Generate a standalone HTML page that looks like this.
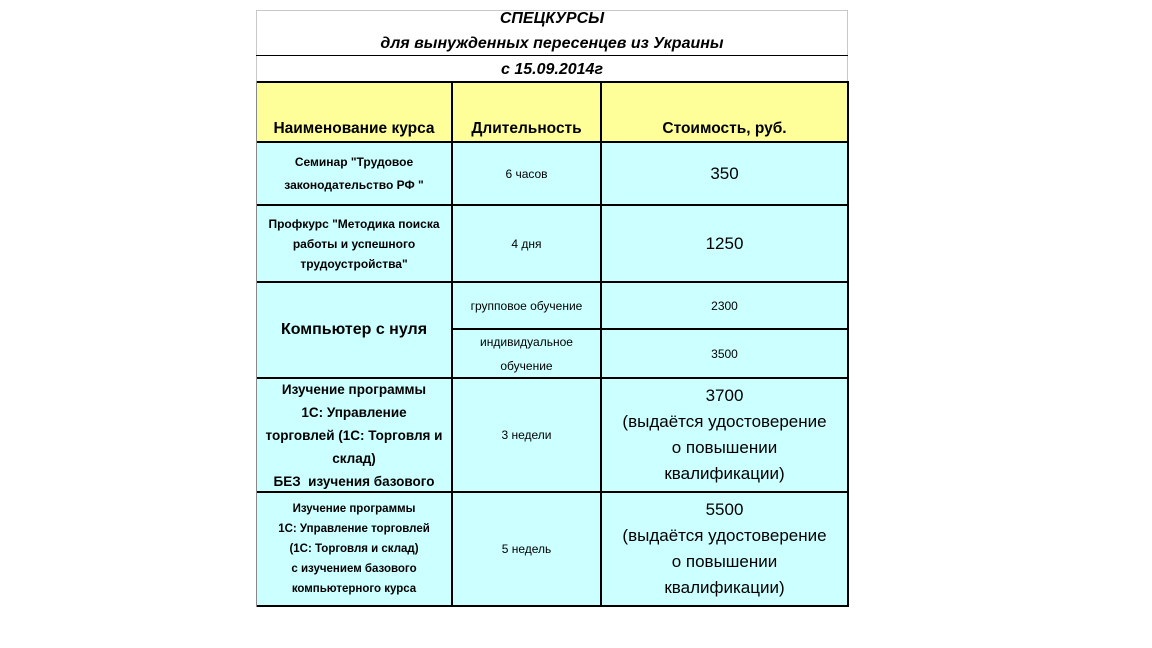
<!DOCTYPE html>
<html><head><meta charset="utf-8"><style>
body{margin:0;width:1152px;height:648px;background:#fff;position:relative;overflow:hidden;font-family:"Liberation Sans",sans-serif;color:#000}
.c{position:absolute;display:flex;align-items:center;justify-content:center;text-align:center;box-sizing:border-box}
.l{position:absolute;background:#000}
.y{background:#ffff99}.b{background:#ccffff}
</style></head><body>
<div style="position:absolute;left:256px;top:10px;width:592px;height:72px;border:1px solid #c8c8c8;border-bottom:none;box-sizing:border-box"></div>
<div class="c" style="left:256px;top:8px;width:592px;height:22px;font-weight:bold;font-style:italic;font-size:16px">СПЕЦКУРСЫ</div>
<div class="c" style="left:256px;top:33px;width:592px;height:22px;font-weight:bold;font-style:italic;font-size:16px">для вынужденных пересенцев из Украины</div>
<div class="c" style="left:256px;top:58px;width:592px;height:24px;font-weight:bold;font-style:italic;font-size:16px">с 15.09.2014г</div>
<div class="l" style="left:256px;top:55px;width:592px;height:1px"></div>

<div class="c y" style="left:256px;top:82px;width:592px;height:60px"></div>
<div class="c" style="left:256px;top:118px;width:196px;height:22px;font-weight:bold;font-size:15.5px">Наименование курса</div>
<div class="c" style="left:452px;top:118px;width:149px;height:22px;font-weight:bold;font-size:15.5px">Длительность</div>
<div class="c" style="left:601px;top:118px;width:247px;height:22px;font-weight:bold;font-size:15.5px">Стоимость, руб.</div>

<div class="b" style="position:absolute;left:256px;top:142px;width:592px;height:465px"></div>

<div class="c" style="left:256px;top:142px;width:196px;height:63px;font-weight:bold;font-size:12px;line-height:23px">Семинар "Трудовое<br>законодательство РФ "</div>
<div class="c" style="left:452px;top:142px;width:149px;height:63px;font-size:12px">6 часов</div>
<div class="c" style="left:601px;top:142px;width:247px;height:63px;font-size:17px">350</div>

<div class="c" style="left:256px;top:205px;width:196px;height:77px;font-weight:bold;font-size:12px;line-height:20px">Профкурс "Методика поиска<br>работы и успешного<br>трудоустройства"</div>
<div class="c" style="left:452px;top:205px;width:149px;height:77px;font-size:12px">4 дня</div>
<div class="c" style="left:601px;top:205px;width:247px;height:77px;font-size:17px">1250</div>

<div class="c" style="left:256px;top:282px;width:196px;height:96px;font-weight:bold;font-size:16px">Компьютер с нуля</div>
<div class="c" style="left:452px;top:282px;width:149px;height:47px;font-size:12px">групповое обучение</div>
<div class="c" style="left:601px;top:282px;width:247px;height:47px;font-size:12px">2300</div>
<div class="c" style="left:452px;top:329px;width:149px;height:49px;font-size:12px;line-height:24px">индивидуальное<br>обучение</div>
<div class="c" style="left:601px;top:329px;width:247px;height:49px;font-size:12px">3500</div>

<div class="c" style="left:256px;top:378px;width:196px;height:114px;font-weight:bold;font-size:13.5px;line-height:23px">Изучение программы<br>1С: Управление<br>торговлей (1С: Торговля и<br>склад)<br>БЕЗ&nbsp; изучения базового</div>
<div class="c" style="left:452px;top:378px;width:149px;height:114px;font-size:12px">3 недели</div>
<div class="c" style="left:601px;top:378px;width:247px;height:114px;font-size:17px;line-height:26px">3700<br>(выдаётся удостоверение<br>о повышении<br>квалификации)</div>

<div class="c" style="left:256px;top:492px;width:196px;height:114px;font-weight:bold;font-size:11.5px;line-height:20px">Изучение программы<br>1С: Управление торговлей<br>(1С: Торговля и склад)<br>с изучением базового<br>компьютерного курса</div>
<div class="c" style="left:452px;top:492px;width:149px;height:114px;font-size:12px">5 недель</div>
<div class="c" style="left:601px;top:492px;width:247px;height:114px;font-size:17px;line-height:26px">5500<br>(выдаётся удостоверение<br>о повышении<br>квалификации)</div>

<div class="l" style="left:256px;top:81px;width:593px;height:2px"></div>
<div class="l" style="left:256px;top:141px;width:593px;height:2px"></div>
<div class="l" style="left:256px;top:204px;width:593px;height:2px"></div>
<div class="l" style="left:256px;top:281px;width:593px;height:2px"></div>
<div class="l" style="left:452px;top:328px;width:397px;height:2px"></div>
<div class="l" style="left:256px;top:377px;width:593px;height:2px"></div>
<div class="l" style="left:256px;top:491px;width:593px;height:2px"></div>
<div class="l" style="left:256px;top:605px;width:593px;height:2px"></div>
<div class="l" style="left:256px;top:81px;width:1px;height:526px;background:#888"></div>
<div class="l" style="left:451px;top:81px;width:2px;height:526px"></div>
<div class="l" style="left:600px;top:81px;width:2px;height:526px"></div>
<div class="l" style="left:847px;top:81px;width:2px;height:526px"></div>
</body></html>
